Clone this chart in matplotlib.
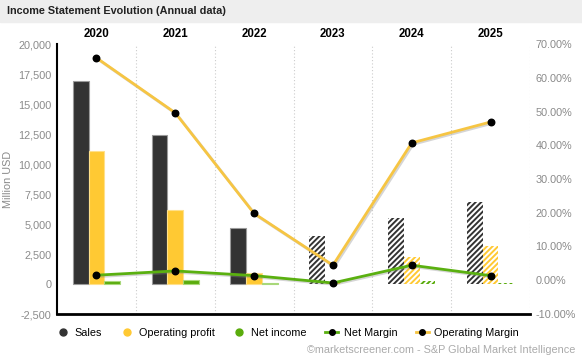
import matplotlib.pyplot as plt
import matplotlib.patheffects as pe
from matplotlib.lines import Line2D
from matplotlib.ticker import FuncFormatter
import numpy as np

plt.rcParams['font.family'] = ['Liberation Sans', 'DejaVu Sans']
plt.rcParams['hatch.linewidth'] = 1.4

years = ['2020', '2021', '2022', '2023', '2024', '2025']
estimate = [False, False, False, True, True, True]
sales = [16900, 12440, 4630, 3990, 5485, 6815]
operating_profit = [11050, 6150, 900, 178, 2240, 3160]
net_income = [250, 340, 63, -32, 244, 93]
net_margin = [1.5, 2.76, 1.37, -0.8, 4.45, 1.37]
operating_margin = [65.9, 49.6, 19.8, 4.45, 40.7, 46.9]

c_sales = '#333333'
c_op = '#ffc933'
c_net = '#5aac0c'
c_net_line = '#5ab010'
c_op_line = '#f6c543'
grey_txt = '#8a8a8a'

fig = plt.figure(figsize=(5.82, 3.59), dpi=100)
ax = fig.add_axes([57/582, 45/359, 473/582, 270/359])
ax2 = ax.twinx()

# title strip
fig.patches.append(plt.Rectangle((0, 1 - 22/359), 1, 22/359, transform=fig.transFigure,
                                 color='#eeeeee', zorder=0))
fig.text(7/582, 1 - 11/359, 'Income Statement Evolution (Annual data)', fontsize=7.8,
         fontweight='bold', va='center', ha='left', color='#222222')

x = np.arange(len(years))
w = 0.2
series = [(sales, c_sales, '#9a9a9a', -w), (operating_profit, c_op, '#ffe08a', 0),
          (net_income, c_net, '#a8d87a', w)]
for vals, col, edge, off in series:
    for i, v in enumerate(vals):
        if estimate[i]:
            ax.bar(x[i] + off, v, width=w, color='white', edgecolor=col, hatch='//////',
                   linewidth=0, zorder=2)
        else:
            ax.bar(x[i] + off, v, width=w, color=col, edgecolor=edge, linewidth=0.8, zorder=2)

ax.set_xlim(-0.5, 5.5)
ax.set_ylim(-2500, 20000)
ax.set_yticks(np.arange(-2500, 20001, 2500))
ax.yaxis.set_major_formatter(FuncFormatter(lambda v, p: f'{v:,.0f}'))
ax.set_xticks([])
for b in np.arange(0.5, 6, 1):
    ax.axvline(b, color='#cccccc', linestyle=(0, (1, 2)), linewidth=0.8, zorder=1)
ax.tick_params(axis='y', length=0, labelsize=7.8, labelcolor=grey_txt, pad=4)
ax.set_ylabel('Million USD', fontsize=7.8, color=grey_txt, labelpad=4)
for s in ['top', 'right']:
    ax.spines[s].set_visible(False)
ax.spines['left'].set_linewidth(1.5)
ax.spines['bottom'].set_linewidth(2)
for i, yr in enumerate(years):
    ax.text(x[i], 1.015, yr, transform=ax.get_xaxis_transform(), ha='center', va='bottom',
            fontsize=8.3, fontweight='bold')

shadow = [pe.SimpleLineShadow(offset=(1, -1), shadow_color='#888888', alpha=0.35), pe.Normal()]
ax2.plot(x, operating_margin, color=c_op_line, linewidth=2, zorder=3, path_effects=shadow)
ax2.plot(x, net_margin, color=c_net_line, linewidth=2, zorder=3, path_effects=shadow)
ax2.scatter(x, operating_margin, s=22, color='black', zorder=4)
ax2.scatter(x, net_margin, s=22, color='black', zorder=4)
ax2.set_ylim(-10, 70)
ax2.set_yticks(np.arange(-10, 71, 10))
ax2.yaxis.set_major_formatter(FuncFormatter(lambda v, p: f'{v:.2f}%'))
ax2.tick_params(axis='y', length=0, labelsize=7.8, labelcolor=grey_txt, pad=4)
for s in ax2.spines.values():
    s.set_visible(False)

handles = [
    Line2D([], [], marker='o', linestyle='none', color=c_sales, markersize=5),
    Line2D([], [], marker='o', linestyle='none', color=c_op, markersize=5),
    Line2D([], [], marker='o', linestyle='none', color=c_net, markersize=5),
    Line2D([], [], marker='o', color=c_net_line, markerfacecolor='black',
           markeredgecolor='black', markersize=4, linewidth=2),
    Line2D([], [], marker='o', color=c_op_line, markerfacecolor='black',
           markeredgecolor='black', markersize=4, linewidth=2),
]
labels = ['Sales', 'Operating profit', 'Net income', 'Net Margin', 'Operating Margin']
fig.legend(handles, labels, loc='center left', bbox_to_anchor=(56/582, 26/359), ncol=5,
           frameon=False, fontsize=7.8, handlelength=1.2, columnspacing=1.7,
           handletextpad=0.5, borderpad=0, borderaxespad=0)

fig.text(575/582, 9/359, '©marketscreener.com - S&P Global Market Intelligence',
         ha='right', va='center', fontsize=7.8, color='#aaaaaa')

fig.savefig('out.png', dpi=100)
